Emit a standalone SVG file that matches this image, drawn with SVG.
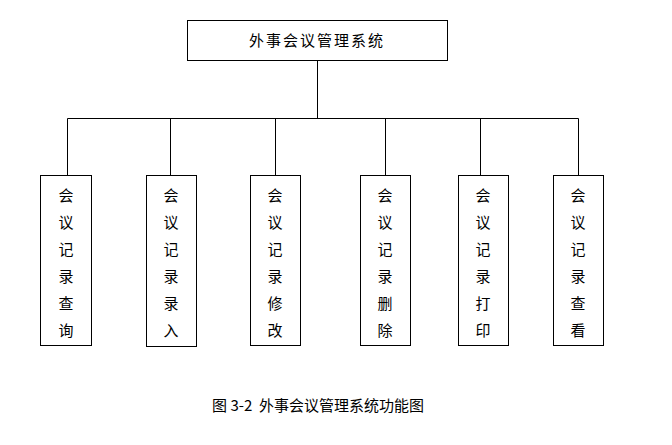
<svg xmlns="http://www.w3.org/2000/svg" width="672" height="445" viewBox="0 0 672 445">
<style>
.b{fill:#fff;stroke:#000;stroke-width:1}
.t{font-family:"Noto Sans CJK SC","Liberation Serif",serif;font-size:15px;text-anchor:middle;fill:#000}
.c{stroke:#000;stroke-width:1;fill:none}
</style>
<rect width="672" height="445" fill="#fff"/>
<g id="root"><rect class="b" x="187.5" y="20.5" width="260" height="40"/><text class="t" x="317" y="46" letter-spacing="2">外事会议管理系统</text></g>
<g id="connectors">
<path class="c" d="M317.5 60.5V118.5M67.5 118.5H578.5M67.5 118.5V175.5M170.5 118.5V175.5M275.5 118.5V175.5M385.5 118.5V175.5M480.5 118.5V175.5M578.5 118.5V175.5"/>
</g>
<g id="n1"><rect class="b" x="40.5" y="175.5" width="51" height="170"/><text class="t"><tspan x="66" y="201">会</tspan><tspan x="66" y="228">议</tspan><tspan x="66" y="255">记</tspan><tspan x="66" y="282">录</tspan><tspan x="66" y="309">查</tspan><tspan x="66" y="336">询</tspan></text></g>
<g id="n2"><rect class="b" x="146.5" y="175.5" width="50" height="171"/><text class="t"><tspan x="171" y="201">会</tspan><tspan x="171" y="228">议</tspan><tspan x="171" y="255">记</tspan><tspan x="171" y="282">录</tspan><tspan x="171" y="309">录</tspan><tspan x="171" y="336">入</tspan></text></g>
<g id="n3"><rect class="b" x="250.5" y="175.5" width="50" height="170"/><text class="t"><tspan x="275" y="201">会</tspan><tspan x="275" y="228">议</tspan><tspan x="275" y="255">记</tspan><tspan x="275" y="282">录</tspan><tspan x="275" y="309">修</tspan><tspan x="275" y="336">改</tspan></text></g>
<g id="n4"><rect class="b" x="360.5" y="175.5" width="50" height="170"/><text class="t"><tspan x="385" y="201">会</tspan><tspan x="385" y="228">议</tspan><tspan x="385" y="255">记</tspan><tspan x="385" y="282">录</tspan><tspan x="385" y="309">删</tspan><tspan x="385" y="336">除</tspan></text></g>
<g id="n5"><rect class="b" x="458.5" y="175.5" width="50" height="170"/><text class="t"><tspan x="483" y="201">会</tspan><tspan x="483" y="228">议</tspan><tspan x="483" y="255">记</tspan><tspan x="483" y="282">录</tspan><tspan x="483" y="309">打</tspan><tspan x="483" y="336">印</tspan></text></g>
<g id="n6"><rect class="b" x="553.5" y="175.5" width="50" height="170"/><text class="t"><tspan x="578" y="201">会</tspan><tspan x="578" y="228">议</tspan><tspan x="578" y="255">记</tspan><tspan x="578" y="282">录</tspan><tspan x="578" y="309">查</tspan><tspan x="578" y="336">看</tspan></text></g>
<text class="t" x="318" y="411" font-size="17" xml:space="preserve">图 3-2  外事会议管理系统功能图</text>
</svg>
